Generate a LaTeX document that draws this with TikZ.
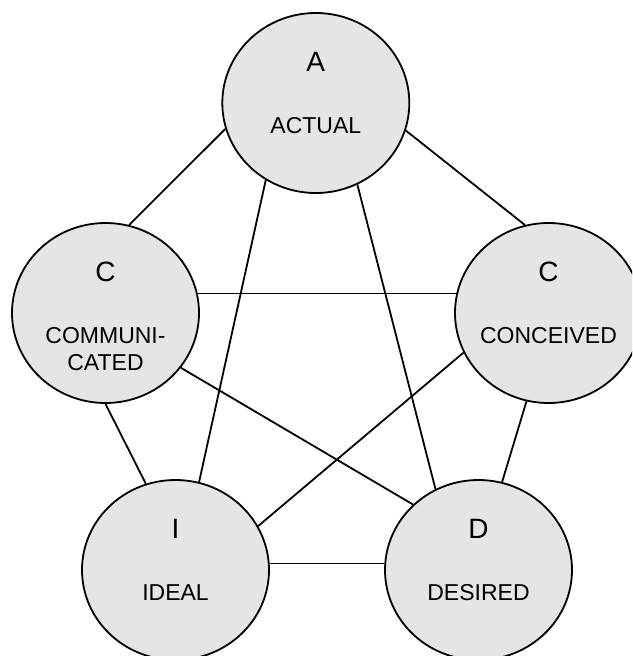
\documentclass[tikz,border=0pt]{standalone}
\usepackage{fontspec}
\setmainfont{Liberation Sans}
\usetikzlibrary{shapes.geometric}
\begin{document}
\begin{tikzpicture}[x=1pt,y=-1pt,
  disc/.style={ellipse, draw=black, line width=1.8pt, fill=black!10,
    minimum width=187pt, minimum height=180pt, inner sep=0pt},
  tie/.style={draw=black, line width=1.8pt},
  initial/.style={font=\fontsize{28}{32}\selectfont, anchor=base, inner sep=0pt},
  word/.style={font=\fontsize{23}{26}\selectfont, anchor=base, inner sep=0pt}]
\useasboundingbox (0,0) rectangle (632,656);
\clip (0,0) rectangle (632,656);

% the five discs
\node[disc] (A)  at (315.8,103) {};
\node[disc] (CL) at (105.5,313) {};
\node[disc] (CR) at (548.5,313) {};
\node[disc] (I)  at (175.5,570) {};
\node[disc] (D)  at (478.5,570) {};

% every pair is joined
\draw[tie] (A.196.1)  -- (CL.75.7);
\draw[tie] (A.343.9)  -- (CR.105.9);
\draw[tie] (A.237.7)  -- (I.75.8);
\draw[tie] (A.297.9)  -- (D.118.4);
\draw[tie] (CL.12.2)  -- (CR.167.8 |- CL.12.2);
\draw[tie] (CL.324.2) -- (D.135.8);
\draw[tie] (CR.205.9) -- (I.28.5);
\draw[tie] (CL.270.3) -- (I.109.1);
\draw[tie] (CR.256.3) -- (D.75.5);
\draw[tie] (I.4.1)    -- (D.175.9 |- I.4.1);

% labels
\node[initial] (A-i)  at ([yshift=31.3pt]A.center)  {A};
\node[word]    (A-w)  at ([yshift=-30.3pt]A.center) {ACTUAL};
\node[initial] (CL-i) at ([yshift=31.3pt]CL.center) {C};
\node[word]    (CL-w) at ([yshift=-30.3pt]CL.center) {COMMUNI-};
\node[word]    (CL-v) at ([yshift=-57pt]CL.center)  {CATED};
\node[initial] (CR-i) at ([yshift=31.3pt]CR.center) {C};
\node[word]    (CR-w) at ([yshift=-30.3pt]CR.center) {CONCEIVED};
\node[initial] (I-i)  at ([yshift=31.3pt]I.center)  {I};
\node[word]    (I-w)  at ([yshift=-30.3pt]I.center) {IDEAL};
\node[initial] (D-i)  at ([yshift=31.3pt]D.center)  {D};
\node[word]    (D-w)  at ([yshift=-30.3pt]D.center) {DESIRED};
\end{tikzpicture}
\end{document}
